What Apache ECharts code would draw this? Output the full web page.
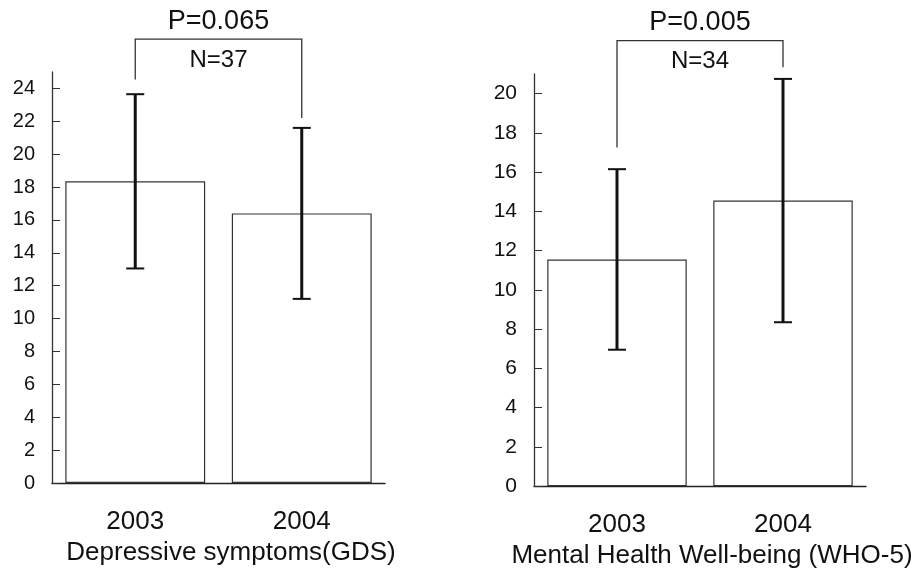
<!DOCTYPE html>
<html><head><meta charset="utf-8">
<script src="https://cdn.jsdelivr.net/npm/echarts@6/dist/echarts.min.js"></script>
<style>html,body{margin:0;padding:0;background:#fff}#c{width:920px;height:574px}</style>
</head><body><div id="c"></div>
<script>
const categories = ['2003', '2004'];
const gdsMean = [18.35, 16.4];
const gdsSD = [5.3, 5.2];
const whoMean = [11.55, 14.55];
const whoSD = [4.6, 6.2];
const leftTicks = [0, 2, 4, 6, 8, 10, 12, 14, 16, 18, 20, 22, 24];
const rightTicks = [0, 2, 4, 6, 8, 10, 12, 14, 16, 18, 20];
const leftMax = 25;
const rightMax = 21;
const pLabels = ['P=0.065', 'P=0.005'];
const nLabels = ['N=37', 'N=34'];
const axisNames = ['Depressive symptoms(GDS)', 'Mental Health Well-being (WHO-5)'];
const bracketTop = [27.0, 22.7];
const bracketLeftEnd = [24.55, 17.25];
const bracketRightEnd = [22.2, 21.35];

const FONT = 'Liberation Sans, Arial, sans-serif';
const INK = '#111';

function errData(mean, sd) {
  return mean.map((m, i) => [i, m - sd[i], m + sd[i]]);
}

function errRender(params, api) {
  const x = api.value(0);
  const lo = api.coord([x, api.value(1)]);
  const hi = api.coord([x, api.value(2)]);
  const h = 9;
  return { type: 'group', children: [
    { type: 'line', shape: { x1: hi[0], y1: hi[1], x2: lo[0], y2: lo[1] }, style: { stroke: INK, lineWidth: 3 } },
    { type: 'line', shape: { x1: hi[0] - h, y1: hi[1], x2: hi[0] + h, y2: hi[1] }, style: { stroke: INK, lineWidth: 2 } },
    { type: 'line', shape: { x1: lo[0] - h, y1: lo[1], x2: lo[0] + h, y2: lo[1] }, style: { stroke: INK, lineWidth: 2 } }
  ]};
}

function bracketRender(k) {
  return function (params, api) {
    const a = api.coord([0, api.value(0)]);
    const b = api.coord([1, api.value(0)]);
    const la = api.coord([0, api.value(1)]);
    const rb = api.coord([1, api.value(2)]);
    const cx = (a[0] + b[0]) / 2;
    return { type: 'group', children: [
      { type: 'polyline', shape: { points: [la, a, b, rb] }, style: { stroke: '#333', lineWidth: 1.3, fill: null } },
      { type: 'text', style: { text: pLabels[k], x: cx, y: a[1] - 18, align: 'center', verticalAlign: 'middle', font: '27px ' + FONT, fill: INK } },
      { type: 'text', style: { text: nLabels[k], x: cx, y: a[1] + 21, align: 'center', verticalAlign: 'middle', font: '24px ' + FONT, fill: INK } }
    ]};
  };
}

function xAxisCfg(idx, name, padLeft) {
  return {
    type: 'category', gridIndex: idx, data: categories,
    axisLine: { lineStyle: { color: '#222', width: 1.4 } },
    axisTick: { inside: true, length: 9, lineStyle: { color: '#222', width: 1.2 } },
    axisLabel: { margin: 26, fontSize: 26, color: INK, fontFamily: FONT },
    name: name, nameLocation: 'middle', nameGap: 54,
    nameTextStyle: { fontSize: 26, color: INK, fontFamily: FONT, padding: [0, 0, 0, padLeft] },
    splitLine: { show: false }
  };
}

function yAxisCfg(idx, max, ticks, fs) {
  return {
    type: 'value', gridIndex: idx, min: 0, max: max,
    axisLine: { show: true, lineStyle: { color: '#333', width: 1.3 } },
    axisTick: { show: true, inside: true, length: 8, customValues: ticks, lineStyle: { color: '#333', width: 1 } },
    axisLabel: { margin: 17, fontSize: fs, color: INK, fontFamily: FONT, customValues: ticks },
    splitLine: { show: false }
  };
}

const chart = echarts.init(document.getElementById('c'));
chart.setOption({
  animation: false,
  backgroundColor: '#fff',
  grid: [
    { left: 52, right: 535, top: 72, bottom: 91 },
    { left: 534, right: 54, top: 74, bottom: 85 }
  ],
  xAxis: [xAxisCfg(0, axisNames[0], 25), xAxisCfg(1, axisNames[1], 24)],
  yAxis: [yAxisCfg(0, leftMax, leftTicks, 20), yAxisCfg(1, rightMax, rightTicks, 21)],
  series: [
    { type: 'bar', xAxisIndex: 0, yAxisIndex: 0, data: gdsMean, barWidth: '84%',
      itemStyle: { color: '#fff', borderColor: '#333', borderWidth: 1.2 } },
    { type: 'bar', xAxisIndex: 1, yAxisIndex: 1, data: whoMean, barWidth: '84%',
      itemStyle: { color: '#fff', borderColor: '#333', borderWidth: 1.2 } },
    { type: 'custom', xAxisIndex: 0, yAxisIndex: 0, data: errData(gdsMean, gdsSD), renderItem: errRender, z: 5 },
    { type: 'custom', xAxisIndex: 1, yAxisIndex: 1, data: errData(whoMean, whoSD), renderItem: errRender, z: 5 },
    { type: 'custom', xAxisIndex: 0, yAxisIndex: 0, clip: false, data: [[bracketTop[0], bracketLeftEnd[0], bracketRightEnd[0]]], renderItem: bracketRender(0), encode: { y: [0, 1, 2] } },
    { type: 'custom', xAxisIndex: 1, yAxisIndex: 1, clip: false, data: [[bracketTop[1], bracketLeftEnd[1], bracketRightEnd[1]]], renderItem: bracketRender(1), encode: { y: [0, 1, 2] } }
  ]
});
</script></body></html>
